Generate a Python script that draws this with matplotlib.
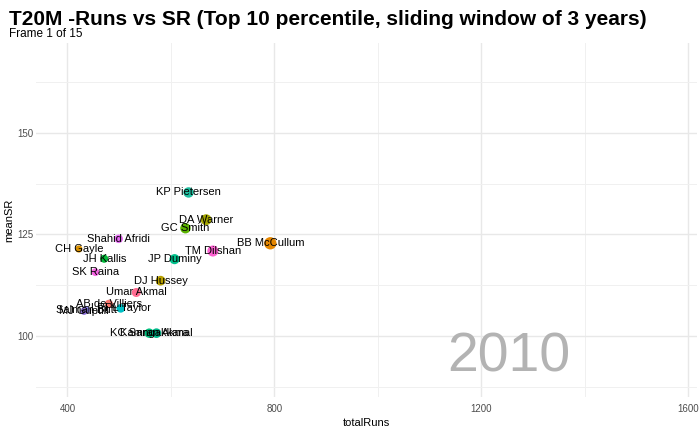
import matplotlib.pyplot as plt
import numpy as np

plt.rcParams['font.family'] = ['Liberation Sans', 'DejaVu Sans']

# values (year 2010)
players = ['KP Pietersen', 'DA Warner', 'GC Smith', 'Shahid Afridi', 'BB McCullum',
           'CH Gayle', 'TM Dilshan', 'JH Kallis', 'JP Duminy', 'SK Raina',
           'DJ Hussey', 'Umar Akmal', 'AB de Villiers', 'LRPL Taylor',
           'Salman Butt', 'MJ Guptill', 'KC Sangakkara', 'Kamran Akmal']
total_runs = [634, 668, 628, 499, 792, 422, 681, 471, 607, 454,
              580, 533, 480, 503, 436, 432, 558, 572]
mean_sr = [135.3, 128.6, 126.5, 123.9, 122.8, 121.4, 120.9, 119.0, 118.9, 115.7,
           113.6, 110.7, 107.9, 106.8, 106.4, 106.1, 100.7, 100.7]
colors = ['#1fbfa0', '#a3a500', '#5bb300', '#e76bf3', '#e58700',
          '#d89000', '#fd61d1', '#00ba38', '#00c08b', '#f564e3',
          '#b79f00', '#ff6c91', '#f8766d', '#00bfc4',
          '#9590ff', '#8b6fd8', '#00bf7d', '#00b88a']
year_label = '2010'

fig = plt.figure(figsize=(7, 4.32), dpi=100)
ax = fig.add_axes([0.052, 0.081, 0.944, 0.819])

runs = np.array(total_runs)
sizes = 24 + (runs - 400) * 0.14
ax.scatter(total_runs, mean_sr, s=sizes, c=colors, zorder=3, linewidths=0)
for name, x, y in zip(players, total_runs, mean_sr):
    ax.text(x, y, name, fontsize=8, ha='center', va='center', color='black', zorder=4)

ax.text(1252, 94.8, year_label, fontsize=40, color='#b3b3b3', ha='center', va='center', zorder=1)

ax.set_xlim(340, 1617)
ax.set_ylim(85, 172)
ax.set_xticks([400, 800, 1200, 1600])
ax.set_xticks([600, 1000, 1400], minor=True)
ax.set_yticks([100, 125, 150])
ax.set_yticks([87.5, 112.5, 137.5, 162.5], minor=True)
ax.grid(True, which='major', color='#e8e8e8', linewidth=1.0, zorder=0)
ax.grid(True, which='minor', color='#f0f0f0', linewidth=0.7, zorder=0)
ax.set_axisbelow(True)
for s in ax.spines.values():
    s.set_visible(False)
ax.tick_params(which='both', length=0, labelsize=7, labelcolor='#4d4d4d')
ax.tick_params(axis='x', pad=5)
ax.tick_params(axis='y', pad=2)
ax.set_xlabel('totalRuns', fontsize=8, labelpad=3)
ax.set_ylabel('meanSR', fontsize=8, labelpad=2)

fig.text(0.013, 0.955, 'T20M -Runs vs SR (Top 10 percentile, sliding window of 3 years)',
         fontsize=15, fontweight='bold', ha='left', va='center')
fig.text(0.013, 0.921, 'Frame 1 of 15', fontsize=8.5, ha='left', va='center')

fig.savefig('out.png', dpi=100)
